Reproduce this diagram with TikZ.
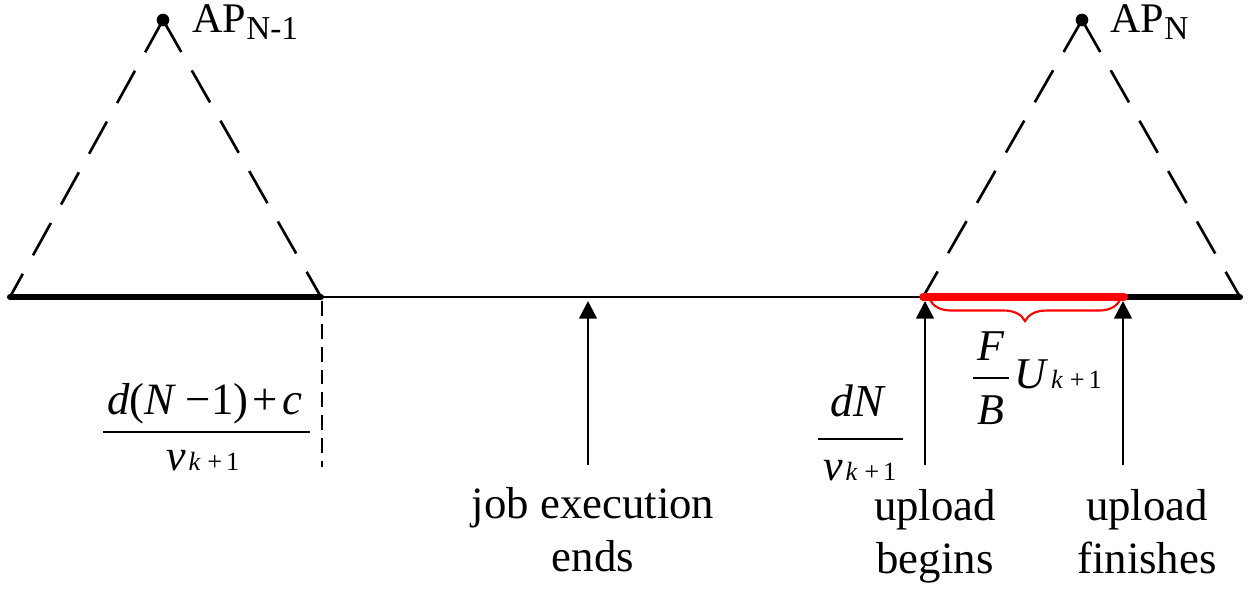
\documentclass[tikz,border=0pt]{standalone}
\usepackage{fontspec}
\setmainfont{Liberation Serif}
\usetikzlibrary{arrows.meta,decorations.pathreplacing}

\tikzset{
    apside/.style={line width=1.5pt, dash pattern=on 21pt off 12pt},
    axisline/.style={line width=1.1pt},
    heavy/.style={line width=3.4pt, line cap=round},
    uploadbar/.style={line width=4.4pt, red, line cap=round},
    event/.style={line width=1.4pt, -{Triangle[width=10pt,length=10pt]}},
    lbl/.style={font=\fontsize{25.5}{30}\selectfont, align=center, inner sep=0pt, anchor=north},
    aplbl/.style={font=\fontsize{24}{24}\selectfont, inner sep=0pt, anchor=base west},
    mathlbl/.style={inner sep=0pt, anchor=base},
}
\newcommand{\vsub}{\fontsize{25}{25}\selectfont\textit{v}\fontsize{15}{15}\selectfont\hspace{.1em}\textit{k}\hspace{.25em}+\hspace{.15em}1}

\begin{document}
\begin{tikzpicture}[x=0.02cm, y=-0.02cm]
    \useasboundingbox (0,0) rectangle (1250,590);

    % Access points and their coverage
    \coordinate (APa) at (163,20);
    \coordinate (APb) at (1082,20);
    \coordinate (La) at (10,297);
    \coordinate (Lb) at (321,297);
    \coordinate (Ra) at (923,297);
    \coordinate (Rb) at (1240,297);
    \coordinate (UpEnd) at (1124,297);

    \draw[apside] (APa) -- (La);
    \draw[apside] (APa) -- (Lb);
    \draw[apside] (APb) -- (Ra);
    \draw[apside] (APb) -- (Rb);
    \fill (APa) circle[radius=3.6pt];
    \fill (APb) circle[radius=3.6pt];
    \node[aplbl] (APaName) at (192,33) {AP\raisebox{-3.5pt}{\fontsize{19}{19}\selectfont N-1}};
    \node[aplbl] (APbName) at (1110,33) {AP\raisebox{-3.5pt}{\fontsize{19}{19}\selectfont N}};

    % Road
    \draw[axisline] (La) -- (Rb);
    \draw[heavy] (La) -- (Lb);
    \draw[heavy] (UpEnd) -- (Rb);
    \draw[uploadbar] (Ra) -- (UpEnd);

    % Leaving AP N-1
    \coordinate (LeaveTop) at (322,301);
    \coordinate (LeaveBot) at (322,467);
    \draw[line width=1.2pt, dash pattern=on 8.5pt off 4.5pt] (LeaveTop) -- (LeaveBot);
    \node[mathlbl, font=\fontsize{25.5}{25.5}\selectfont] (LeaveNum) at (205,415)
        {\textit{d}(\textit{N}\hspace{.2em}−1)\hspace{.1em}+\hspace{.1em}\textit{c}};
    \coordinate (LeaveBarA) at (103,432);
    \coordinate (LeaveBarB) at (310,432);
    \draw[line width=1.1pt] (LeaveBarA) -- (LeaveBarB);
    \node[mathlbl] (LeaveDen) at (203,471) {\vsub};

    % Events
    \coordinate (JobTail) at (588,465);
    \coordinate (JobHead) at (588,301);
    \coordinate (BeginTail) at (925,465);
    \coordinate (BeginHead) at (925,301);
    \coordinate (FinishTail) at (1123,465);
    \coordinate (FinishHead) at (1123,301);
    \draw[event] (JobTail) -- (JobHead);
    \draw[event] (BeginTail) -- (BeginHead);
    \draw[event] (FinishTail) -- (FinishHead);

    \node[lbl] (Job) at (593,487) {job execution\\ends};
    \node[lbl] (Begin) at (935,489) {upload\\begins};
    \node[lbl] (Finish) at (1147,489) {upload\\finishes};

    % Arrival at AP N
    \node[mathlbl, font=\fontsize{26}{26}\selectfont] (ArriveNum) at (858,417) {\textit{dN}};
    \coordinate (ArriveBarA) at (818,439);
    \coordinate (ArriveBarB) at (903,439);
    \draw[line width=1.1pt] (ArriveBarA) -- (ArriveBarB);
    \node[mathlbl] (ArriveDen) at (860,481) {\vsub};

    % Upload time
    \coordinate (BraceA) at (930,300);
    \coordinate (BraceB) at (1120,300);
    \draw[red, line width=1.2pt, decorate, decoration={brace, mirror, amplitude=12pt}] (BraceA) -- (BraceB);
    \node[mathlbl, font=\fontsize{25}{25}\selectfont] (UpNum) at (991,361) {\textit{F}};
    \coordinate (UpBarA) at (973,378);
    \coordinate (UpBarB) at (1009,378);
    \draw[line width=1.1pt] (UpBarA) -- (UpBarB);
    \node[mathlbl, font=\fontsize{25}{25}\selectfont] (UpDen) at (991,425) {\textit{B}};
    \node[inner sep=0pt, anchor=base west] (UpRate) at (1014,389)
        {\fontsize{25}{25}\selectfont\textit{U}\fontsize{15}{15}\selectfont\hspace{.1em}\textit{k}\hspace{.25em}+\hspace{.15em}1};

\end{tikzpicture}
\end{document}
